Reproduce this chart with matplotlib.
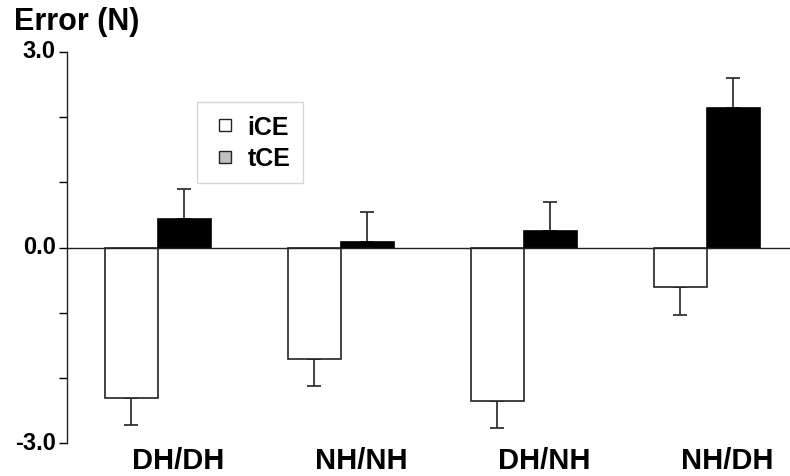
import matplotlib.pyplot as plt
import matplotlib.transforms as mtransforms
import numpy as np

plt.rcParams['font.family'] = ['Liberation Sans', 'DejaVu Sans']

groups = ["DH/DH", "NH/NH", "DH/NH", "NH/DH"]
ice = [-2.31, -1.71, -2.36, -0.61]
ice_err = [0.42, 0.42, 0.41, 0.42]
tce = [0.43, 0.09, 0.25, 2.14]
tce_err = [0.47, 0.46, 0.45, 0.46]

x = np.arange(len(groups))
w = 0.29

fig = plt.figure(figsize=(7.9, 4.77), dpi=100)
ax = fig.add_axes([0.0848, 0.069, 0.9152, 0.82])

ax.bar(x - w / 2, ice, w, color='white', edgecolor='#222222', linewidth=1.2, zorder=2)
ax.bar(x + w / 2, tce, w, color='black', edgecolor='black', linewidth=1.2, zorder=2)
# one-sided error bars
ax.errorbar(x - w / 2, ice, yerr=[ice_err, [0] * 4], fmt='none', ecolor='#222222',
            elinewidth=1.2, capsize=5, capthick=1.2, zorder=1)
ax.errorbar(x + w / 2, tce, yerr=[[0] * 4, tce_err], fmt='none', ecolor='#222222',
            elinewidth=1.2, capsize=5, capthick=1.2, zorder=1)

ax.set_xlim(-0.497, 3.454)
ax.set_ylim(-3.0, 3.0)

for s in ['top', 'right']:
    ax.spines[s].set_visible(False)
ax.spines['bottom'].set_position(('data', 0))
ax.spines['bottom'].set_linewidth(1.0)
ax.spines['left'].set_linewidth(1.0)
ax.spines['left'].set_color('#222222')
ax.spines['bottom'].set_color('#222222')
ax.set_xticks([])

ax.set_yticks([-3, -2, -1, 0, 1, 2, 3])
ax.set_yticklabels(['-3.0', '', '', '0.0', '', '', '3.0'])
ax.tick_params(axis='y', direction='out', length=6, width=1.0, pad=2,
               labelsize=17)
# labels sit a little below their ticks in the original
off = mtransforms.ScaledTranslation(0, 9 / 72, fig.dpi_scale_trans)
for lab in ax.get_yticklabels():
    lab.set_fontweight('bold')
    lab.set_verticalalignment('top')
    lab.set_transform(lab.get_transform() + off)

for i, g in enumerate(groups):
    ax.text(i + 0.11, -3.05, g, ha='center', va='top', fontsize=21,
            fontweight='bold')

fig.text(0.018, 0.953, "Error (N)", fontsize=22, fontweight='bold',
         ha='left', va='center')

h1 = plt.Line2D([], [], marker='s', color='none', markerfacecolor='white',
                markeredgecolor='#222222', markersize=9)
h2 = plt.Line2D([], [], marker='s', color='none', markerfacecolor='#c0c0c0',
                markeredgecolor='#222222', markersize=9)
leg = ax.legend([h1, h2], ['iCE', 'tCE'], loc='upper left',
                bbox_to_anchor=(0.163, 0.903), frameon=True, fancybox=False,
                prop={'weight': 'bold', 'size': 18}, handletextpad=0.3,
                borderpad=0.5, labelspacing=0.3, handlelength=1.2)
leg.get_frame().set_edgecolor('#cccccc')
leg.get_frame().set_linewidth(1.0)

fig.savefig('out.png', dpi=100)
